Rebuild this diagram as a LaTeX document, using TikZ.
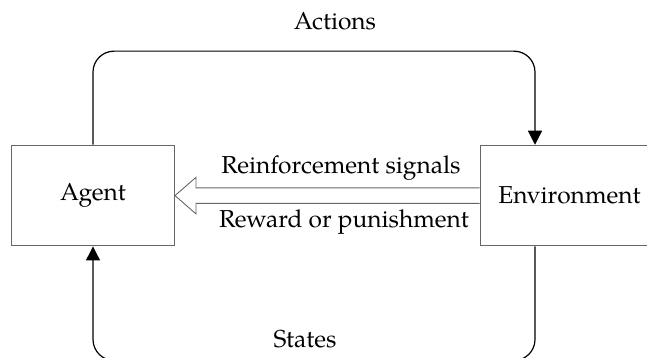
\documentclass[tikz,border=0pt]{standalone}
\usepackage{fontspec}
\setmainfont{TeX Gyre Pagella}
\usetikzlibrary{arrows.meta,calc}
\begin{document}
\begin{tikzpicture}[x=1pt,y=-1pt,
  box/.style={draw=black!60, line width=1pt, minimum width=#1, minimum height=100.7pt, inner sep=0pt, font=\fontsize{24.5}{28}\selectfont},
  lbl/.style={font=\fontsize{24.5}{28}\selectfont, anchor=base, inner sep=0pt},
  loopline/.style={draw=black, line width=1.2pt, rounded corners=21pt},
  tipend/.style={-{Triangle[length=14pt,width=14pt]}},
  hollow/.style={draw=black!60, line width=0.9pt, line join=miter}]
\useasboundingbox (0,0) rectangle (647,358);
\node[box=163pt] (agent) at (93,195.6) {Agent};
\node[box=179pt] (env) at (569.5,195.6) {Environment};
\draw[loopline,tipend] (agent.north) -- ++(0,-93.6) -| ($(env.north)+(-34.5,0)$);
\draw[loopline,tipend] ($(env.south)+(-34.5,0)$) -- ++(0,114) -| (agent.south);
\draw[hollow] ($(env.west)+(0,-7.7)$) -- ($(agent.east)+(21,-7.7)$) -- ++(0,-10.6) -- (agent.east) -- ($(agent.east)+(21,18.3)$) -- ++(0,-10.6) -- ($(env.west)+(0,7.7)$);
\node[lbl] (act) at (335,30) {Actions};
\node[lbl] (st) at (305,347) {States};
\node[lbl] (rs) at (341,173.3) {Reinforcement signals};
\node[lbl] (rp) at (344,227) {Reward or punishment};
\end{tikzpicture}
\end{document}
